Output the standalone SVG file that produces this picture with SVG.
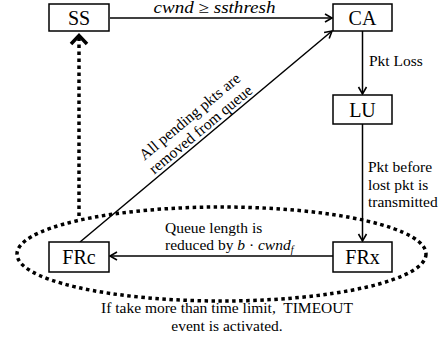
<svg xmlns="http://www.w3.org/2000/svg" width="445" height="345" viewBox="0 0 445 345">
<style>
.box{fill:#fff;stroke:#000;stroke-width:1.5}
.lbl{font-family:"Liberation Serif",serif;font-size:20px;text-anchor:middle;fill:#000}
.t{font-family:"Liberation Serif",serif;font-size:15.5px;fill:#000}
.m{font-family:"Liberation Serif",serif;font-style:italic;fill:#000}
.ln{fill:none;stroke:#000;stroke-width:1.5}
.dot{fill:none;stroke:#000;stroke-width:3.5;stroke-dasharray:3.5 3.5}
</style>
<defs>
<marker id="ah" markerWidth="12" markerHeight="12" refX="9" refY="5" orient="auto" markerUnits="userSpaceOnUse">
<path d="M2,1 L9,5 L2,9" fill="none" stroke="#000" stroke-width="1.6"/>
</marker>
</defs>
<g id="connectors">
<line class="ln" x1="110" y1="18" x2="332" y2="18" marker-end="url(#ah)"/>
<line class="ln" x1="362.5" y1="31" x2="362.5" y2="94" marker-end="url(#ah)"/>
<line class="ln" x1="362.5" y1="124" x2="362.5" y2="241" marker-end="url(#ah)"/>
<line class="ln" x1="333" y1="256" x2="110" y2="256" marker-end="url(#ah)"/>
<line class="ln" x1="80" y1="242" x2="332" y2="31" marker-end="url(#ah)"/>
<line class="dot" x1="79" y1="216" x2="79" y2="38"/>
<path d="M71,44 L79,35.5 L87,44" fill="none" stroke="#000" stroke-width="3.5"/>
<ellipse class="dot" cx="221.5" cy="254" rx="204.5" ry="47"/>
</g>
<g id="SS"><rect class="box" x="49" y="4" width="60" height="27"/><text class="lbl" x="79" y="25">SS</text></g>
<g id="CA"><rect class="box" x="333" y="4" width="59" height="27"/><text class="lbl" x="362.5" y="25">CA</text></g>
<g id="LU"><rect class="box" x="333" y="95" width="59" height="29"/><text class="lbl" x="362.5" y="117">LU</text></g>
<g id="FRx"><rect class="box" x="333" y="242" width="59" height="30"/><text class="lbl" x="362.5" y="264">FRx</text></g>
<g id="FRc"><rect class="box" x="49" y="242" width="60" height="30"/><text class="lbl" x="79" y="264">FRc</text></g>
<g id="labels">
<text class="m" x="214.5" y="13" font-size="16" text-anchor="middle" textLength="122" lengthAdjust="spacingAndGlyphs">cwnd ≥ ssthresh</text>
<text class="t" x="369" y="66">Pkt Loss</text>
<text class="t" x="368" y="172">Pkt before</text>
<text class="t" x="368" y="190">lost pkt is</text>
<text class="t" x="368" y="207">transmitted</text>
<text class="t" x="165" y="233" font-size="15">Queue length is</text>
<text class="t" x="165" y="250" font-size="15">reduced by <tspan class="m">b</tspan> · <tspan class="m">cwnd</tspan><tspan class="m" font-size="10" dy="2.5">f</tspan></text>
<g transform="translate(206.5,136.5) rotate(-39.8)">
<text class="t" x="0" y="-21" text-anchor="middle">All pending pkts are</text>
<text class="t" x="0" y="-4" text-anchor="middle">removed from queue</text>
</g>
<text class="t" x="227" y="313" text-anchor="middle" xml:space="preserve">If take more than time limit,  TIMEOUT</text>
<text class="t" x="227" y="331" text-anchor="middle">event is activated.</text>
</g>
</svg>
